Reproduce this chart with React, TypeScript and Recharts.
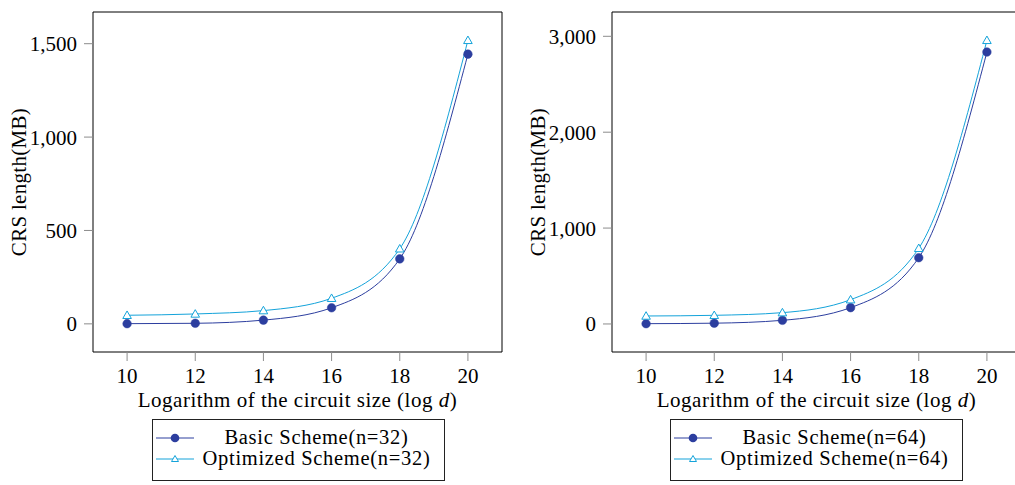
import React from 'react'
import { Line, LineChart, XAxis, YAxis } from 'recharts'

// log d on the x axis, CRS length in MB on y
const LOG_D = [10, 12, 14, 16, 18, 20]
const X_TICKS = [10, 12, 14, 16, 18, 20]

const BASIC_32 = [1, 3, 20, 86, 348, 1444]
const OPT_32 = [46, 53, 71, 137, 402, 1518]
const Y_TICKS_32 = [0, 500, 1000, 1500]

const BASIC_64 = [3, 8, 38, 170, 691, 2836]
const OPT_64 = [83, 90, 118, 253, 789, 2958]
const Y_TICKS_64 = [0, 1000, 2000, 3000]

const BASIC_COLOR = '#2c3e9f'
const OPT_COLOR = '#14a3da'
const FONT = "'Liberation Serif', 'DejaVu Serif', serif"

// pgfplots-style 10% enlargement of the data range
function enlarge(vals: number[]): [number, number] {
  const lo = Math.min(...vals)
  const hi = Math.max(...vals)
  const pad = (hi - lo) * 0.1
  return [lo - pad, hi + pad]
}

function TriangleDot(props: any) {
  const { cx, cy, stroke } = props
  if (cx == null || cy == null) return null
  const s = 4.3
  const d = `M${cx},${cy - s} L${cx + s},${cy + s * 0.75} L${cx - s},${cy + s * 0.75} Z`
  return <path d={d} fill="#fff" stroke={stroke} strokeWidth={1} />
}

function YTitle(props: any) {
  const vb = props.viewBox || { x: 0, y: 12, height: 340 }
  const cx = vb.x + 26
  const cy = vb.y + vb.height / 2
  return (
    <text x={cx} y={cy} transform={`rotate(-90 ${cx} ${cy})`} textAnchor="middle"
      style={{ fontFamily: FONT, letterSpacing: 0.3 }} fontSize={21} fill="#000">CRS length(MB)</text>
  )
}

function XTitle(props: any) {
  const vb = props.viewBox || { x: 93, y: 352, width: 409 }
  return (
    <text x={vb.x + vb.width / 2} y={vb.y + 55} textAnchor="middle"
      style={{ fontFamily: FONT, letterSpacing: 0.5 }} fontSize={21} fill="#000">
      Logarithm of the circuit size (log <tspan fontStyle="italic">d</tspan>)
    </text>
  )
}

function LegendBox({ left, n }: { left: number; n: number }) {
  const rows = [
    { name: `Basic Scheme(n=${n})`, color: BASIC_COLOR, tri: false },
    { name: `Optimized Scheme(n=${n})`, color: OPT_COLOR, tri: true },
  ]
  return (
    <div style={{
      position: 'absolute', left, top: 419, width: 293, height: 62, boxSizing: 'border-box',
      border: '1px solid #222', paddingTop: 7, fontFamily: FONT, fontSize: 20.5, lineHeight: '21px',
      letterSpacing: 0.7,
    }}>
      {rows.map((r) => (
        <div key={r.name} style={{ display: 'flex', alignItems: 'center', height: 21 }}>
          <svg width={44} height={20} style={{ flex: 'none' }}>
            <line x1={3} y1={10} x2={41} y2={10} stroke={r.color} strokeWidth={1} />
            {r.tri
              ? <path d="M22,6.5 L25.5,12.5 L18.5,12.5 Z" fill="#fff" stroke={r.color} strokeWidth={1} />
              : <circle cx={22} cy={10} r={4.3} fill={r.color} />}
          </svg>
          <span style={{ flex: 1, textAlign: 'center', paddingRight: 8, whiteSpace: 'nowrap' }}>{r.name}</span>
        </div>
      ))}
    </div>
  )
}

function CrsChart({ left, basic, opt, yTicks }: {
  left: number; basic: number[]; opt: number[]; yTicks: number[]
}) {
  const data = LOG_D.map((x, i) => ({ x, basic: basic[i], opt: opt[i] }))
  const xDomain = enlarge(LOG_D)
  const yDomain = enlarge([...basic, ...opt])
  const tickStyle = { fill: '#000', fontSize: 21, style: { fontFamily: FONT } }
  const frame = { stroke: '#000', strokeWidth: 1 }
  const tickLine = { stroke: '#8c8c8c', strokeWidth: 1 }
  return (
    <div style={{ position: 'absolute', left, top: 0, fontFamily: FONT }}>
      <LineChart width={520} height={420} data={data} margin={{ top: 0, right: 0, bottom: 0, left: 0 }}
        style={{ fontFamily: FONT }}>
        <XAxis xAxisId="b" dataKey="x" type="number" domain={xDomain} ticks={X_TICKS} allowDataOverflow
          height={68} tickSize={9} tickMargin={7} axisLine={frame} tickLine={tickLine} tick={tickStyle}
          label={<XTitle />} />
        <XAxis xAxisId="t" orientation="top" dataKey="x" type="number" domain={xDomain} ticks={X_TICKS}
          allowDataOverflow height={12} tickSize={12} axisLine={frame} tickLine={tickLine} tick={false} />
        <YAxis yAxisId="l" type="number" domain={yDomain} ticks={yTicks} allowDataOverflow width={93}
          tickSize={9} tickMargin={7} axisLine={frame} tickLine={tickLine} tick={tickStyle}
          tickFormatter={(v: number) => v.toLocaleString('en-US')} label={<YTitle />} />
        <YAxis yAxisId="r" orientation="right" type="number" domain={yDomain} ticks={yTicks}
          allowDataOverflow width={18} tickSize={9} axisLine={frame} tickLine={tickLine} tick={false} />
        <Line xAxisId="b" yAxisId="l" dataKey="basic" type="monotone" stroke={BASIC_COLOR} strokeWidth={1}
          dot={{ r: 4.3, fill: BASIC_COLOR, stroke: BASIC_COLOR, strokeWidth: 0.5 }} isAnimationActive={false} />
        <Line xAxisId="b" yAxisId="l" dataKey="opt" type="monotone" stroke={OPT_COLOR} strokeWidth={1}
          dot={(p: any) => <TriangleDot key={`o-${p.index}`} {...p} />} isAnimationActive={false} />
      </LineChart>
    </div>
  )
}

export default function App() {
  return (
    <div style={{
      position: 'absolute', left: 0, top: 0, width: 1015, height: 485, overflow: 'hidden', background: '#fff',
    }}>
      <CrsChart left={0} basic={BASIC_32} opt={OPT_32} yTicks={Y_TICKS_32} />
      <CrsChart left={519} basic={BASIC_64} opt={OPT_64} yTicks={Y_TICKS_64} />
      <LegendBox left={152} n={32} />
      <LegendBox left={670} n={64} />
    </div>
  )
}
